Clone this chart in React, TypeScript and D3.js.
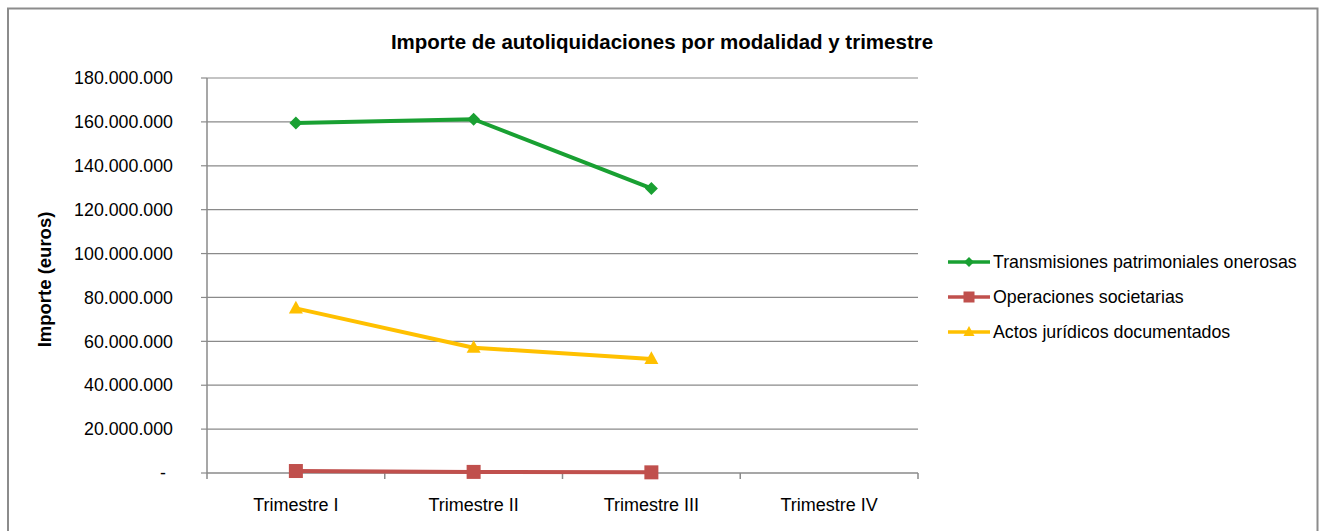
import React from "react";
import * as d3 from "d3";

const categories = ["Trimestre I", "Trimestre II", "Trimestre III", "Trimestre IV"];
const transmisiones = [159500000, 161200000, 129700000, null];
const operaciones = [900000, 500000, 300000, null];
const actos = [75000000, 57100000, 52000000, null];
const yTicks = [0, 20000000, 40000000, 60000000, 80000000, 100000000, 120000000, 140000000, 160000000, 180000000];

const seriesList = [
  { name: "Transmisiones patrimoniales onerosas", values: transmisiones, color: "#19a032", marker: "diamond" },
  { name: "Operaciones societarias", values: operaciones, color: "#c0504d", marker: "square" },
  { name: "Actos jurídicos documentados", values: actos, color: "#ffc000", marker: "triangle" },
];

const W = 1320, H = 531;
const FONT = "'Liberation Sans', Arial, sans-serif";

function fmt(v: number) {
  if (v === 0) return "-";
  return d3.format(",")(v).replace(/,/g, ".");
}

function Marker({ type, x, y, s, color }: { type: string; x: number; y: number; s: number; color: string }) {
  if (type === "diamond") {
    const r = s / 2;
    return <path d={`M${x},${y - r}L${x + r},${y}L${x},${y + r}L${x - r},${y}Z`} fill={color} />;
  }
  if (type === "square") {
    return <rect x={x - s / 2} y={y - s / 2} width={s} height={s} fill={color} />;
  }
  const h = s * 0.9;
  return <path d={`M${x},${y - h * 0.6}L${x + s / 2},${y + h * 0.4}L${x - s / 2},${y + h * 0.4}Z`} fill={color} />;
}

export default function App() {
  const x0 = 207, x1 = 918, yTop = 78, yBot = 473;
  const x = d3.scaleBand<string>().domain(categories).range([x0, x1]);
  const y = d3.scaleLinear().domain([0, 180000000]).range([yBot, yTop]);
  const cx = (c: string) => (x(c) as number) + x.bandwidth() / 2;
  const line = d3
    .line<number | null>()
    .defined((d) => d !== null)
    .x((_, i) => cx(categories[i]))
    .y((d) => y(d as number));

  return (
    <svg width={W} height={H} style={{ position: "absolute", left: 0, top: 0 }} fontFamily={FONT}>
      <rect x={0} y={0} width={W} height={H} fill="#fff" />
      <path d={`M8,${H + 5}V8.5H1317.5V${H + 5}`} fill="none" stroke="#8c8c8c" strokeWidth={2} />
      <text x={662} y={49} textAnchor="middle" fontWeight="bold" fontSize={20.5} fill="#000">
        Importe de autoliquidaciones por modalidad y trimestre
      </text>
      {yTicks.map((t) => (
        <g key={t}>
          {t > 0 && <line x1={x0} x2={x1} y1={y(t)} y2={y(t)} stroke="#8a8a8a" strokeWidth={1.2} />}
          <line x1={x0 - 6} x2={x0} y1={y(t)} y2={y(t)} stroke="#8a8a8a" strokeWidth={1.2} />
          <text
            x={t === 0 ? 166 : 173}
            y={y(t)}
            dy="0.35em"
            textAnchor="end"
            fontSize={17.8}
            fill="#000"
          >
            {fmt(t)}
          </text>
        </g>
      ))}
      <line x1={x0} x2={x0} y1={yTop} y2={yBot + 6} stroke="#8a8a8a" strokeWidth={1.5} />
      <line x1={x0} x2={x1} y1={yBot} y2={yBot} stroke="#8a8a8a" strokeWidth={1.5} />
      {categories.map((c) => (
        <line
          key={"t" + c}
          x1={(x(c) as number) + x.bandwidth()}
          x2={(x(c) as number) + x.bandwidth()}
          y1={yBot}
          y2={yBot + 6}
          stroke="#8a8a8a"
          strokeWidth={1.5}
        />
      ))}
      {categories.map((c) => (
        <text key={c} x={cx(c)} y={511} textAnchor="middle" fontSize={18} fill="#000">
          {c}
        </text>
      ))}
      <text
        transform={`translate(51,${(yTop + yBot) / 2 + 4}) rotate(-90)`}
        textAnchor="middle"
        fontWeight="bold"
        fontSize={18.5}
        fill="#000"
      >
        Importe (euros)
      </text>
      {seriesList.map((s) => (
        <g key={s.name}>
          <path d={line(s.values) || ""} fill="none" stroke={s.color} strokeWidth={4} strokeLinejoin="round" />
          {s.values.map((v, i) =>
            v === null ? null : (
              <Marker key={i} type={s.marker} x={cx(categories[i])} y={y(v)} s={s.marker === "diamond" ? 13 : 14} color={s.color} />
            )
          )}
        </g>
      ))}
      {seriesList.map((s, i) => {
        const ly = 262 + i * 35;
        return (
          <g key={"l" + s.name}>
            <line x1={948} x2={990} y1={ly} y2={ly} stroke={s.color} strokeWidth={3.5} />
            <Marker type={s.marker} x={969} y={ly} s={s.marker === "diamond" ? 10 : 11} color={s.color} />
            <text x={993} y={ly} dy="0.35em" fontSize={17.8} fill="#000">
              {s.name}
            </text>
          </g>
        );
      })}
    </svg>
  );
}
